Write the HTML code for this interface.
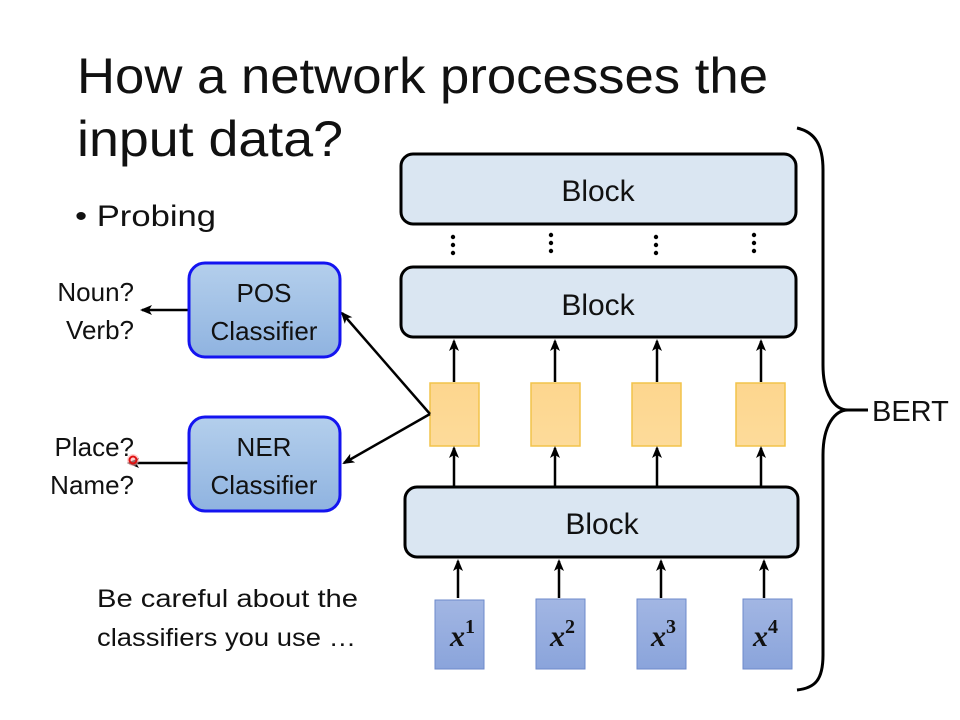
<!DOCTYPE html>
<html><head><meta charset="utf-8"><style>
html,body{margin:0;padding:0;background:#fff;width:960px;height:720px;overflow:hidden}
svg text{font-family:"Liberation Sans",sans-serif;fill:#111}
</style></head><body>
<svg width="960" height="720" viewBox="0 0 960 720" xmlns="http://www.w3.org/2000/svg">
<defs>
<marker id="ah" markerWidth="12" markerHeight="12" refX="10" refY="6" orient="auto" markerUnits="userSpaceOnUse">
<path d="M0,1 L12,6 L0,11 L3,6 Z" fill="#000"/></marker>
<linearGradient id="cls" x1="0" y1="0" x2="0" y2="1"><stop offset="0" stop-color="#b4cfec"/><stop offset="1" stop-color="#8fb3e0"/></linearGradient>
<linearGradient id="yl" x1="0" y1="0" x2="0" y2="1"><stop offset="0" stop-color="#fdd68e"/><stop offset="1" stop-color="#fddb9a"/></linearGradient>
<linearGradient id="inp" x1="0" y1="0" x2="0" y2="1"><stop offset="0" stop-color="#a2b6e3"/><stop offset="1" stop-color="#8aa4db"/></linearGradient>
</defs>
<text x="77" y="93" font-size="50" textLength="691" lengthAdjust="spacingAndGlyphs">How a network processes the</text>
<text x="77" y="156" font-size="50" textLength="266" lengthAdjust="spacingAndGlyphs">input data?</text>
<text x="75" y="226" font-size="30" textLength="141" lengthAdjust="spacingAndGlyphs">• Probing</text>
<text x="97" y="607" font-size="25" textLength="261" lengthAdjust="spacingAndGlyphs">Be careful about the</text>
<text x="97" y="646" font-size="25" textLength="259" lengthAdjust="spacingAndGlyphs">classifiers you use …</text>

<rect x="401" y="154" width="395" height="70" rx="12" fill="#dae6f2" stroke="#000" stroke-width="3"/>
<text x="598" y="201" font-size="30" text-anchor="middle">Block</text>
<rect x="401" y="267" width="395" height="70" rx="12" fill="#dae6f2" stroke="#000" stroke-width="3"/>
<text x="598" y="315" font-size="30" text-anchor="middle">Block</text>
<rect x="405" y="487" width="393" height="70" rx="12" fill="#dae6f2" stroke="#000" stroke-width="3"/>
<text x="602" y="534" font-size="30" text-anchor="middle">Block</text>

<g fill="#000">
<circle cx="453" cy="237" r="2.2"/><circle cx="453" cy="245" r="2.2"/><circle cx="453" cy="253" r="2.2"/>
<circle cx="551" cy="235" r="2.2"/><circle cx="551" cy="243" r="2.2"/><circle cx="551" cy="251" r="2.2"/>
<circle cx="656" cy="237" r="2.2"/><circle cx="656" cy="245" r="2.2"/><circle cx="656" cy="253" r="2.2"/>
<circle cx="754" cy="235" r="2.2"/><circle cx="754" cy="243" r="2.2"/><circle cx="754" cy="251" r="2.2"/>
</g>

<g fill="url(#yl)" stroke="#f2c34a" stroke-width="1.5">
<rect x="430" y="383" width="49" height="63"/>
<rect x="531" y="383" width="49" height="63"/>
<rect x="632" y="383" width="49" height="63"/>
<rect x="736" y="383" width="49" height="63"/>
</g>
<g stroke="#000" stroke-width="2.5" marker-end="url(#ah)">
<line x1="454" y1="382" x2="454" y2="341"/><line x1="555" y1="382" x2="555" y2="341"/>
<line x1="657" y1="382" x2="657" y2="341"/><line x1="761" y1="382" x2="761" y2="341"/>
<line x1="454" y1="486" x2="454" y2="448"/><line x1="555" y1="486" x2="555" y2="448"/>
<line x1="657" y1="486" x2="657" y2="448"/><line x1="761" y1="486" x2="761" y2="448"/>
<line x1="458" y1="598" x2="458" y2="561"/><line x1="559" y1="598" x2="559" y2="561"/>
<line x1="661" y1="598" x2="661" y2="561"/><line x1="764" y1="598" x2="764" y2="561"/>
<line x1="430" y1="414" x2="342" y2="313"/><line x1="430" y1="414" x2="344" y2="463"/>
<line x1="188" y1="310" x2="142" y2="310"/><line x1="188" y1="463" x2="129" y2="463"/>
</g>

<g fill="url(#inp)" stroke="#6d8acb" stroke-width="1">
<rect x="435" y="600" width="49" height="69"/><rect x="536" y="599" width="49" height="70"/>
<rect x="637" y="599" width="49" height="70"/><rect x="743" y="599" width="49" height="70"/>
</g>
<g font-style="italic" font-weight="bold" font-size="30">
<text x="450" y="646" style="font-family:'Liberation Serif',serif">x<tspan dy="-13" font-size="20" font-style="normal">1</tspan></text>
<text x="550" y="646" style="font-family:'Liberation Serif',serif">x<tspan dy="-13" font-size="20" font-style="normal">2</tspan></text>
<text x="651" y="646" style="font-family:'Liberation Serif',serif">x<tspan dy="-13" font-size="20" font-style="normal">3</tspan></text>
<text x="753" y="646" style="font-family:'Liberation Serif',serif">x<tspan dy="-13" font-size="20" font-style="normal">4</tspan></text>
</g>

<rect x="189" y="263" width="151" height="94" rx="16" fill="url(#cls)" stroke="#1414f0" stroke-width="3"/>
<text x="264" y="302" font-size="26" text-anchor="middle">POS</text>
<text x="264" y="340" font-size="26" text-anchor="middle">Classifier</text>
<rect x="189" y="417" width="151" height="94" rx="16" fill="url(#cls)" stroke="#1414f0" stroke-width="3"/>
<text x="264" y="456" font-size="26" text-anchor="middle">NER</text>
<text x="264" y="494" font-size="26" text-anchor="middle">Classifier</text>

<g font-size="26" text-anchor="end">
<text x="134" y="301">Noun?</text><text x="134" y="339">Verb?</text>
<text x="134" y="456">Place?</text><text x="134" y="494">Name?</text>
</g>
<circle cx="133" cy="460" r="6" fill="#ffb0b0" opacity="0.6"/>
<circle cx="133" cy="460" r="3.5" fill="none" stroke="#e01010" stroke-width="2"/>

<path d="M797,128 C815,132 823,145 823,170 L823,365 C823,395 835,410 848,410 C835,410 823,425 823,455 L823,655 C823,680 815,688 797,690" fill="none" stroke="#000" stroke-width="3"/>
<line x1="846" y1="410" x2="868" y2="410" stroke="#000" stroke-width="3"/>
<text x="872" y="421" font-size="29">BERT</text>
</svg>
</body></html>
